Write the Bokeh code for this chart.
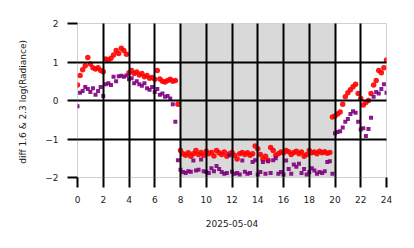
from bokeh.plotting import figure
from bokeh.models import Range1d, FixedTicker, BoxAnnotation, ColumnDataSource
from bokeh.embed import file_html
from bokeh.resources import INLINE

hours = [0.0, 0.2, 0.4, 0.6, 0.8, 1.0, 1.2, 1.4, 1.6, 1.8,
         2.0, 2.2, 2.4, 2.6, 2.8, 3.0, 3.2, 3.4, 3.6, 3.8,
         4.0, 4.2, 4.4, 4.6, 4.8, 5.0, 5.2, 5.4, 5.6, 5.8,
         6.0, 6.2, 6.4, 6.6, 6.8, 7.0, 7.2, 7.4, 7.6, 7.8,
         8.0, 8.2, 8.4, 8.6, 8.8, 9.0, 9.2, 9.4, 9.6, 9.8,
         10.0, 10.2, 10.4, 10.6, 10.8, 11.0, 11.2, 11.4, 11.6, 11.8,
         12.0, 12.2, 12.4, 12.6, 12.8, 13.0, 13.2, 13.4, 13.6, 13.8,
         14.0, 14.2, 14.4, 14.6, 14.8, 15.0, 15.2, 15.4, 15.6, 15.8,
         16.0, 16.2, 16.4, 16.6, 16.8, 17.0, 17.2, 17.4, 17.6, 17.8,
         18.0, 18.2, 18.4, 18.6, 18.8, 19.0, 19.2, 19.4, 19.6, 19.8,
         20.0, 20.2, 20.4, 20.6, 20.8, 21.0, 21.2, 21.4, 21.6, 21.8,
         22.0, 22.2, 22.4, 22.6, 22.8, 23.0, 23.2, 23.4, 23.6, 23.8, 24.0]

diff_1_6 = [0.40, 0.65, 0.80, 0.90, 1.12, 0.95, 0.85, 0.82, 0.85, 0.78,
            0.75, 1.08, 1.05, 1.10, 1.18, 1.30, 1.22, 1.36, 1.30, 1.20,
            0.72, 0.78, 0.70, 0.74, 0.66, 0.70, 0.62, 0.65, 0.58, 0.60,
            0.55, 0.78, 0.56, 0.50, 0.48, 0.52, 0.55, 0.50, 0.52, -0.10,
            -1.30, -1.38, -1.42, -1.36, -1.45, -1.38, -1.30, -1.40, -1.35, -1.42,
            -1.32, -1.38, -1.35, -1.44, -1.30, -1.36, -1.40, -1.34, -1.45, -1.38,
            -1.35, -1.42, -1.52, -1.38, -1.35, -1.40, -1.36, -1.42, -1.38, -1.18,
            -1.25, -1.40, -1.52, -1.45, -1.55, -1.22, -1.30, -1.42, -1.38, -1.34,
            -1.36, -1.30, -1.33, -1.40, -1.35, -1.32, -1.38, -1.34, -1.45, -1.40,
            -1.30, -1.36, -1.34, -1.38, -1.32, -1.36, -1.33, -1.37, -1.35, -0.43,
            -0.40, -0.35, -0.30, -0.10, 0.10, 0.20, 0.28, 0.36, 0.42, 0.18,
            0.05, -0.12, -0.05, 0.00, 0.18, 0.40, 0.52, 0.78, 0.72, 0.85, 1.05]

diff_2_3 = [-0.15, 0.20, 0.25, 0.35, 0.30, 0.22, 0.32, 0.15, 0.25, 0.35,
            0.12, 0.42, 0.45, 0.40, 0.62, 0.50, 0.63, 0.64, 0.62, 0.65,
            0.55, 0.58, 0.45, 0.50, 0.42, 0.38, 0.45, 0.32, 0.28, 0.35,
            0.22, 0.30, 0.15, 0.18, 0.10, 0.12, 0.05, -0.10, -0.55, -1.55,
            -1.80, -1.86, -1.88, -1.84, -1.85, -1.56, -1.82, -1.80, -1.53, -1.84,
            -1.86, -1.88, -1.76, -1.84, -1.70, -1.78, -1.86, -1.90, -1.88, -1.42,
            -1.85, -1.90, -1.88, -1.92, -1.56, -1.85, -1.90, -1.88, -1.60, -1.55,
            -1.92, -1.86, -1.60, -1.90, -1.58, -1.88, -1.55, -1.50, -1.90, -1.86,
            -1.92, -1.56, -1.78, -1.90, -1.66, -1.72, -1.64, -1.88, -1.78, -1.92,
            -1.86, -1.76, -1.82, -1.90, -1.86, -1.88, -1.84, -1.60, -1.58, -1.90,
            -0.85, -0.82, -0.80, -0.70, -0.55, -0.48, -0.35, -0.28, -0.32, -0.55,
            -0.75, -0.72, -0.92, -0.74, -0.45, 0.10, 0.22, 0.18, 0.30, 0.42, 0.20]

x_ticks = [0, 2, 4, 6, 8, 10, 12, 14, 16, 18, 20, 22, 24]
y_ticks = [-2, -1, 0, 1, 2]
night_start, night_end = 8, 20
x_label = "2025-05-04"
y_label = "diff 1.6 & 2.3  log(Radiance)"

src = ColumnDataSource(data=dict(h=hours, a=diff_1_6, b=diff_2_3))

p = figure(width=414, height=248, output_backend="svg", toolbar_location=None,
           x_range=Range1d(0, 24), y_range=Range1d(-2, 2),
           min_border_left=77, min_border_right=28, min_border_top=23,
           min_border_bottom=71)
p.background_fill_color = "white"
p.border_fill_color = "white"
p.outline_line_color = "#d0d0d0"
p.outline_line_width = 1

shade = BoxAnnotation(left=night_start, right=night_end, fill_color="#d9d9d9",
                      fill_alpha=1.0, line_color=None, level="image")
p.add_layout(shade)

p.xaxis.ticker = FixedTicker(ticks=x_ticks)
p.yaxis.ticker = FixedTicker(ticks=y_ticks)
p.yaxis.major_label_overrides = {-2: "\u22122", -1: "\u22121", 0: "0", 1: "1", 2: "2"}

for ax in (p.xaxis[0], p.yaxis[0]):
    ax.axis_line_color = None
    ax.major_tick_line_color = "black"
    ax.major_tick_line_width = 2
    ax.major_tick_out = 10
    ax.major_tick_in = 0
    ax.minor_tick_line_color = None
    ax.major_label_text_font = "DejaVu Sans"
    ax.major_label_text_font_size = "9px"
    ax.major_label_text_color = "#222222"
    ax.axis_label_text_font = "DejaVu Sans"
    ax.axis_label_text_font_size = "9px"
    ax.axis_label_text_font_style = "normal"
    ax.axis_label_text_color = "#222222"

p.xaxis.axis_label = x_label
p.yaxis.axis_label = y_label
p.xaxis.major_label_standoff = 8
p.yaxis.major_label_standoff = 9
p.xaxis.axis_label_standoff = 14
p.yaxis.axis_label_standoff = 14

for g in (p.xgrid[0], p.ygrid[0]):
    g.grid_line_color = "black"
    g.grid_line_width = 2
    g.grid_line_alpha = 1.0
    g.level = "guide"

p.scatter("h", "a", source=src, marker="circle", size=5.5, fill_color="#ff0000",
          line_color=None, fill_alpha=0.9)
p.scatter("h", "b", source=src, marker="square", size=4, fill_color="#800080",
          line_color=None, fill_alpha=0.9)

open("out.html", "w").write(file_html(p, INLINE))
